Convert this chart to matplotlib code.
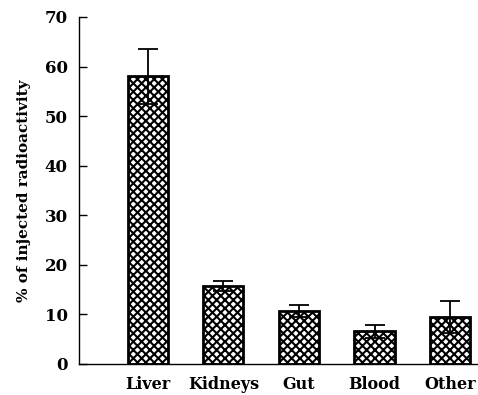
import matplotlib
matplotlib.use("Agg")
from matplotlib import pyplot as plt

# data
organs = ["Liver", "Kidneys", "Gut", "Blood", "Other"]
values = [58.0, 15.7, 10.7, 6.6, 9.5]
errors = [5.5, 1.0, 1.2, 1.3, 3.2]
yticks = [0, 10, 20, 30, 40, 50, 60, 70]

plt.rcParams["font.family"] = ["DejaVu Serif"]
plt.rcParams["font.weight"] = "bold"
plt.rcParams["hatch.linewidth"] = 1.5

fig = plt.figure(figsize=(4.78, 3.95), dpi=100)
ax = fig.add_axes([0.165, 0.0785, 0.835, 0.8785])

x = list(range(len(organs)))
ax.bar(x, values, width=0.53, color="white", edgecolor="black",
       linewidth=2.0, hatch="xxxx", zorder=2)
ax.errorbar(x, values, yerr=errors, fmt="none", ecolor="black",
            elinewidth=1.3, capsize=7, capthick=1.3, zorder=3)

ax.set_xlim(-0.914, 4.37)
ax.set_ylim(0, 70)
ax.set_yticks(yticks)
ax.set_xticks(x)
ax.set_xticklabels(organs)
ax.set_ylabel("% of injected radioactivity", fontsize=11, fontweight="bold", labelpad=10)

ax.tick_params(axis="y", direction="in", length=6, width=1, pad=8, labelsize=12)
ax.tick_params(axis="x", length=0, pad=9, labelsize=11.5)
for lab in ax.get_xticklabels() + ax.get_yticklabels():
    lab.set_fontweight("bold")

ax.spines["top"].set_visible(False)
ax.spines["right"].set_visible(False)
ax.spines["left"].set_linewidth(1.0)
ax.spines["bottom"].set_linewidth(1.0)

plt.savefig("out.png", dpi=100)
plt.close()
